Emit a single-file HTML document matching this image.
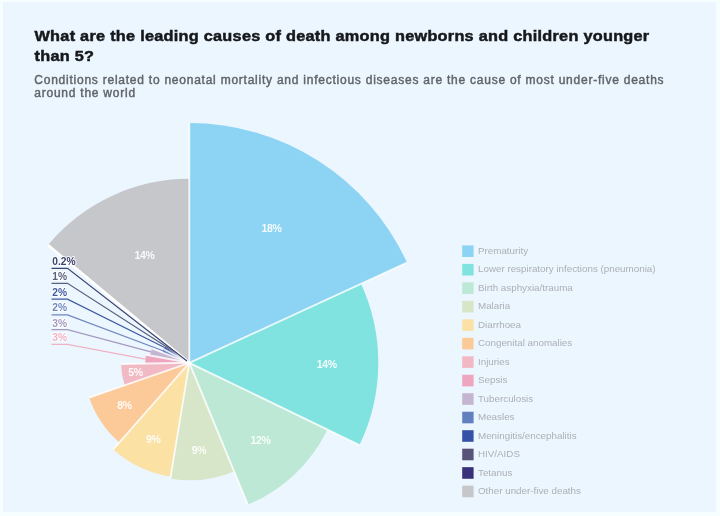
<!DOCTYPE html>
<html><head><meta charset="utf-8"><style>
html,body{margin:0;padding:0;}
body{width:720px;height:516px;overflow:hidden;background:#f6feff;position:relative;font-family:"Liberation Sans",sans-serif;}
#card{position:absolute;left:2.5px;top:2px;width:713px;height:509.5px;background:#ecf6fe;}
svg{position:absolute;left:0;top:0;filter:blur(0.7px);}
.t{font-family:"Liberation Sans",sans-serif;}
.title{font-weight:bold;font-size:15.5px;fill:#16181b;letter-spacing:0.26px;stroke:#16181b;stroke-width:0.5px;}
.sub{font-size:12px;fill:#5f6469;letter-spacing:0.76px;stroke:#5f6469;stroke-width:0.42px;}
.pl{font-weight:bold;font-size:10.5px;letter-spacing:-0.4px;fill:#ffffff;fill-opacity:0.9;font-family:"Liberation Sans",sans-serif;}
.sl{font-weight:bold;font-size:11px;font-family:"Liberation Sans",sans-serif;paint-order:stroke;stroke:#ffffff;stroke-opacity:0.8;stroke-width:2.2px;stroke-linejoin:round;}
.lg{font-size:9.8px;fill:#abb0b5;font-family:"Liberation Sans",sans-serif;}
</style></head><body>
<div id="card"></div>
<svg width="720" height="516" viewBox="0 0 720 516">
<text transform="translate(34.5,41.2) scale(1.05,1)" class="t title">What are the leading causes of death among newborns and children younger</text>
<text transform="translate(34.5,61.2) scale(1.05,1)" class="t title">than 5?</text>
<text x="34.3" y="84.3" class="t sub">Conditions related to neonatal mortality and infectious diseases are the cause of most under-five deaths</text>
<text x="34.3" y="97.0" class="t sub">around the world</text>
<path d="M189.30,362.80 L189.30,123.10 A239.7,239.7 0 0 1 407.07,262.64 Z" fill="#8DD4F4"/><path d="M189.30,362.80 L361.01,283.82 A189.0,189.0 0 0 1 359.46,445.06 Z" fill="#80E3E0"/><path d="M189.30,362.80 L327.50,429.61 A153.5,153.5 0 0 1 247.79,504.72 Z" fill="#BDE8D6"/><path d="M189.30,362.80 L234.08,471.43 A117.5,117.5 0 0 1 170.31,478.76 Z" fill="#D7E5C8"/><path d="M189.30,362.80 L170.63,476.78 A115.5,115.5 0 0 1 113.07,449.57 Z" fill="#FBE1A3"/><path d="M189.30,362.80 L119.34,442.43 A106.0,106.0 0 0 1 89.20,397.66 Z" fill="#FCC999"/><path d="M189.30,362.80 L124.80,385.26 A68.3,68.3 0 0 1 121.01,363.99 Z" fill="#F1B9C4"/><path d="M189.30,362.80 L145.31,363.57 A44.0,44.0 0 0 1 146.04,354.78 Z" fill="#EEA5BE"/><path d="M189.30,362.80 L149.97,355.51 A40.0,40.0 0 0 1 151.96,348.47 Z" fill="#C4B6D0"/><path d="M189.30,362.80 L162.23,352.41 A29.0,29.0 0 0 1 163.74,349.10 Z" fill="#6280C0"/><path d="M189.30,362.80 L163.74,349.10 A29.0,29.0 0 0 1 165.60,346.08 Z" fill="#3652A8"/><path d="M189.30,362.80 L177.04,354.15 A15.0,15.0 0 0 1 177.61,353.40 Z" fill="#5A5379"/><path d="M189.30,362.80 L186.96,360.92 A3.0,3.0 0 0 1 187.00,360.88 Z" fill="#3A3079"/><path d="M189.30,362.80 L47.94,245.02 A184.0,184.0 0 0 1 189.30,178.80 Z" fill="#C6C7CA"/>
<line x1="189.3" y1="362.8" x2="189.30" y2="123.10" stroke="#ffffff" stroke-opacity="0.8" stroke-width="1.9"/><line x1="189.3" y1="362.8" x2="407.07" y2="262.64" stroke="#ffffff" stroke-opacity="0.8" stroke-width="1.9"/><line x1="189.3" y1="362.8" x2="359.46" y2="445.06" stroke="#ffffff" stroke-opacity="0.8" stroke-width="1.9"/><line x1="189.3" y1="362.8" x2="247.79" y2="504.72" stroke="#ffffff" stroke-opacity="0.8" stroke-width="1.9"/><line x1="189.3" y1="362.8" x2="170.31" y2="478.76" stroke="#ffffff" stroke-opacity="0.8" stroke-width="1.9"/><line x1="189.3" y1="362.8" x2="113.07" y2="449.57" stroke="#ffffff" stroke-opacity="0.8" stroke-width="1.9"/><line x1="189.3" y1="362.8" x2="89.20" y2="397.66" stroke="#ffffff" stroke-opacity="0.8" stroke-width="1.9"/><line x1="189.3" y1="362.8" x2="121.01" y2="363.99" stroke="#ffffff" stroke-opacity="0.8" stroke-width="1.9"/><line x1="189.3" y1="362.8" x2="146.04" y2="354.78" stroke="#ffffff" stroke-opacity="0.8" stroke-width="1.9"/><line x1="189.3" y1="362.8" x2="151.96" y2="348.47" stroke="#ffffff" stroke-opacity="0.8" stroke-width="1.9"/><line x1="189.3" y1="362.8" x2="163.74" y2="349.10" stroke="#ffffff" stroke-opacity="0.8" stroke-width="1.9"/><line x1="189.3" y1="362.8" x2="165.60" y2="346.08" stroke="#ffffff" stroke-opacity="0.8" stroke-width="1.9"/><line x1="189.3" y1="362.8" x2="177.61" y2="353.40" stroke="#ffffff" stroke-opacity="0.8" stroke-width="1.9"/><line x1="189.3" y1="362.8" x2="47.94" y2="245.02" stroke="#ffffff" stroke-opacity="1" stroke-width="2.6"/>
<text x="271.5" y="232.3" text-anchor="middle" class="pl">18%</text><text x="326.7" y="368.40000000000003" text-anchor="middle" class="pl">14%</text><text x="260.5" y="443.8" text-anchor="middle" class="pl">12%</text><text x="199" y="453.8" text-anchor="middle" class="pl">9%</text><text x="153.3" y="442.8" text-anchor="middle" class="pl">9%</text><text x="124.5" y="408.5" text-anchor="middle" class="pl">8%</text><text x="135.4" y="375.5" text-anchor="middle" class="pl">5%</text><text x="144.5" y="258.6" text-anchor="middle" class="pl">14%</text>
<polyline points="51.5,268.3 67.5,268.3 186.98,360.90" fill="none" stroke="#3e4470" stroke-width="1.25"/><text transform="translate(52.3,265.2) scale(0.93,1)" class="sl" fill="#3e4470">0.2%</text><polyline points="51.5,283.3 67.5,283.3 177.32,353.77" fill="none" stroke="#5a607e" stroke-width="1.25"/><text transform="translate(52.3,279.9) scale(0.93,1)" class="sl" fill="#5a607e">1%</text><polyline points="51.5,299.2 67.5,299.2 164.63,347.56" fill="none" stroke="#3f5a9f" stroke-width="1.25"/><text transform="translate(52.3,295.7) scale(0.93,1)" class="sl" fill="#3f5a9f">2%</text><polyline points="51.5,314.9 67.5,314.9 162.93,350.73" fill="none" stroke="#6f86bf" stroke-width="1.25"/><text transform="translate(52.3,311.0) scale(0.93,1)" class="sl" fill="#6f86bf">2%</text><polyline points="51.5,329.6 67.5,329.6 150.80,351.94" fill="none" stroke="#a49ac0" stroke-width="1.25"/><text transform="translate(52.3,327.0) scale(0.93,1)" class="sl" fill="#a49ac0">3%</text><polyline points="51.5,344.4 67.5,344.4 145.45,359.16" fill="none" stroke="#f0b3c4" stroke-width="1.25"/><text transform="translate(52.3,341.2) scale(0.93,1)" class="sl" fill="#f0b3c4">3%</text>
<rect x="462.2" y="245.40" width="11.4" height="11.6" fill="#8DD4F4"/><text x="478.0" y="254.00" class="lg">Prematurity</text><rect x="462.2" y="263.88" width="11.4" height="11.6" fill="#80E3E0"/><text x="478.0" y="272.48" class="lg">Lower respiratory infections (pneumonia)</text><rect x="462.2" y="282.36" width="11.4" height="11.6" fill="#BDE8D6"/><text x="478.0" y="290.96" class="lg">Birth asphyxia/trauma</text><rect x="462.2" y="300.84" width="11.4" height="11.6" fill="#D7E5C8"/><text x="478.0" y="309.44" class="lg">Malaria</text><rect x="462.2" y="319.32" width="11.4" height="11.6" fill="#FBE1A3"/><text x="478.0" y="327.92" class="lg">Diarrhoea</text><rect x="462.2" y="337.80" width="11.4" height="11.6" fill="#FCC999"/><text x="478.0" y="346.40" class="lg">Congenital anomalies</text><rect x="462.2" y="356.28" width="11.4" height="11.6" fill="#F1B9C4"/><text x="478.0" y="364.88" class="lg">Injuries</text><rect x="462.2" y="374.76" width="11.4" height="11.6" fill="#EEA5BE"/><text x="478.0" y="383.36" class="lg">Sepsis</text><rect x="462.2" y="393.24" width="11.4" height="11.6" fill="#C4B6D0"/><text x="478.0" y="401.84" class="lg">Tuberculosis</text><rect x="462.2" y="411.72" width="11.4" height="11.6" fill="#6280C0"/><text x="478.0" y="420.32" class="lg">Measles</text><rect x="462.2" y="430.20" width="11.4" height="11.6" fill="#3652A8"/><text x="478.0" y="438.80" class="lg">Meningitis/encephalitis</text><rect x="462.2" y="448.68" width="11.4" height="11.6" fill="#5A5379"/><text x="478.0" y="457.28" class="lg">HIV/AIDS</text><rect x="462.2" y="467.16" width="11.4" height="11.6" fill="#3A3079"/><text x="478.0" y="475.76" class="lg">Tetanus</text><rect x="462.2" y="485.64" width="11.4" height="11.6" fill="#C6C7CA"/><text x="478.0" y="494.24" class="lg">Other under-five deaths</text>
</svg>
</body></html>
